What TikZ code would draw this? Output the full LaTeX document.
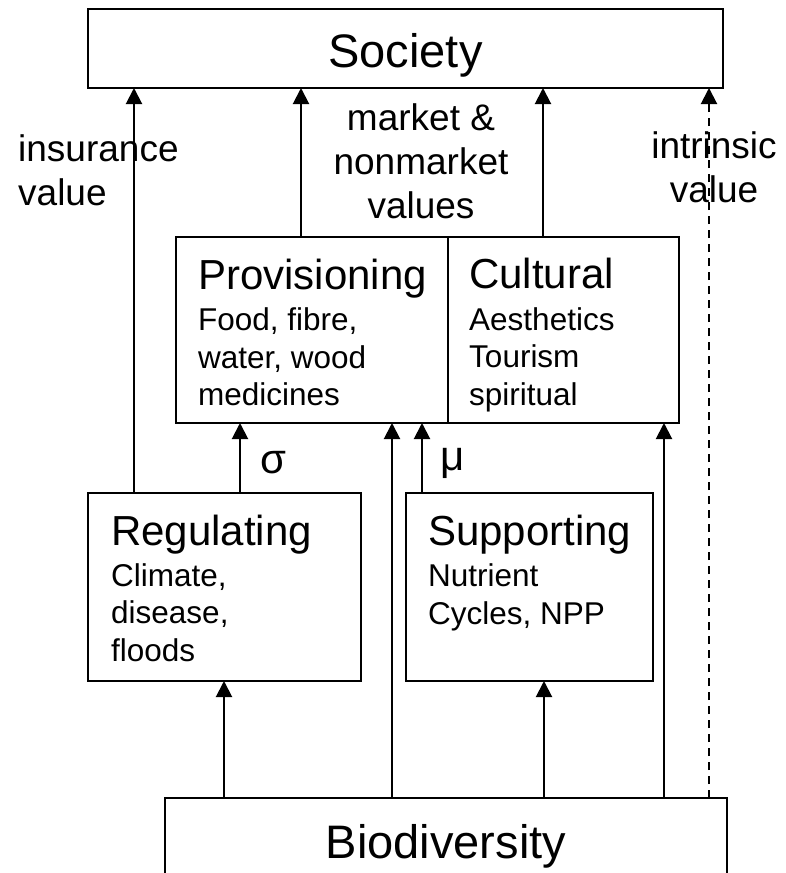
\documentclass[tikz,border=0pt]{standalone}
\usepackage{fontspec}
\setmainfont{Liberation Sans}
\usepackage{tikz}
\usetikzlibrary{positioning, arrows.meta}
\tikzset{%
  box/.style={draw, line width=2pt, inner sep=0pt, outer sep=0pt, anchor=north west}, % plain rectangle, placed by its top left corner
  bigname/.style={font=\fontsize{47}{56}\selectfont, text height=37pt, text depth=0pt}, % Society and Biodiversity
  title/.style={font=\fontsize{42}{50}\selectfont, inner sep=0pt, anchor=base west},
  items/.style={font=\fontsize{31.5}{37.5}\selectfont, inner sep=0pt, anchor=base west},
  valuetext/.style={font=\fontsize{37}{44}\selectfont, inner sep=0pt},
  link/.style={->, line width=2pt}
}

\begin{document}
\begin{tikzpicture}[x=1pt, y=-1pt, >={Triangle[width=16pt,length=16pt]}]
\useasboundingbox (0,0) rectangle (785,873);
\clip (0,0) rectangle (785,873);

% boxes
\node[box, bigname, minimum width=635pt, minimum height=79pt] (soc) at (88,9) {Society};
\node[box, minimum width=272pt, minimum height=186pt] (prov) at (176,237) {};
\node[box, minimum width=231pt, minimum height=186pt] (cult) at (448,237) {};
\node[box, minimum width=273pt, minimum height=188pt] (reg) at (88,493) {};
\node[box, minimum width=247pt, minimum height=188pt] (supp) at (406,493) {};
\node[box, bigname, minimum width=562pt, minimum height=83pt] (bio) at (165,798) {Biodiversity};

% box texts
\node[title] (provtitle) at ([shift={(22,52.5)}]prov.north west) {Provisioning};
\node[items] (provlist) at ([yshift=-41pt]provtitle.base west) {\begin{tabular}[t]{@{}l@{}}Food, fibre,\\ water, wood\\ medicines\end{tabular}};
\node[title] (culttitle) at ([shift={(21,51.5)}]cult.north west) {Cultural};
\node[items] (cultlist) at ([yshift=-41.5pt]culttitle.base west) {\begin{tabular}[t]{@{}l@{}}Aesthetics\\ Tourism\\ spiritual\end{tabular}};
\node[title] (regtitle) at ([shift={(23,52)}]reg.north west) {Regulating};
\node[items] (reglist) at ([yshift=-41pt]regtitle.base west) {\begin{tabular}[t]{@{}l@{}}Climate,\\ disease,\\ floods\end{tabular}};
\node[title] (supptitle) at ([shift={(22,52)}]supp.north west) {Supporting};
\node[items] (supplist) at ([yshift=-41.5pt]supptitle.base west) {\begin{tabular}[t]{@{}l@{}}Nutrient\\ Cycles, NPP\end{tabular}};

% value labels
\node[valuetext, anchor=base west] (insval) at (18,161) {\begin{tabular}[t]{@{}l@{}}insurance\\ value\end{tabular}};
\node[valuetext, anchor=base] (mktval) at (421,130) {\begin{tabular}[t]{@{}c@{}}market \&\\ nonmarket\\ values\end{tabular}};
\node[valuetext, anchor=base] (intval) at (714,158) {\begin{tabular}[t]{@{}c@{}}intrinsic\\ value\end{tabular}};
\node[valuetext, font=\fontsize{42}{50}\selectfont, anchor=base west] (sigma) at (260,473) {σ};
\node[valuetext, font=\fontsize{42}{50}\selectfont, anchor=base west] (mu) at (440,470) {μ};

% arrows up to Society
\draw[link] ([xshift=46pt]reg.north west) -- ([xshift=46pt]reg.north west |- soc.south);
\draw[link] ([xshift=125pt]prov.north west) -- ([xshift=125pt]prov.north west |- soc.south);
\draw[link] ([xshift=95pt]cult.north west) -- ([xshift=95pt]cult.north west |- soc.south);
\draw[link, dash pattern=on 8pt off 6pt] ([xshift=544pt]bio.north west) -- ([xshift=544pt]bio.north west |- soc.south);

% arrows into the services
\draw[link] ([xshift=152pt]reg.north west) -- ([xshift=152pt]reg.north west |- prov.south);
\draw[link] ([xshift=16pt]supp.north west) -- ([xshift=16pt]supp.north west |- prov.south);

% arrows up from Biodiversity
\draw[link] ([xshift=59pt]bio.north west) -- ([xshift=59pt]bio.north west |- reg.south);
\draw[link] ([xshift=227pt]bio.north west) -- ([xshift=227pt]bio.north west |- prov.south);
\draw[link] ([xshift=379pt]bio.north west) -- ([xshift=379pt]bio.north west |- supp.south);
\draw[link] ([xshift=499pt]bio.north west) -- ([xshift=499pt]bio.north west |- cult.south);

\end{tikzpicture}
\end{document}
